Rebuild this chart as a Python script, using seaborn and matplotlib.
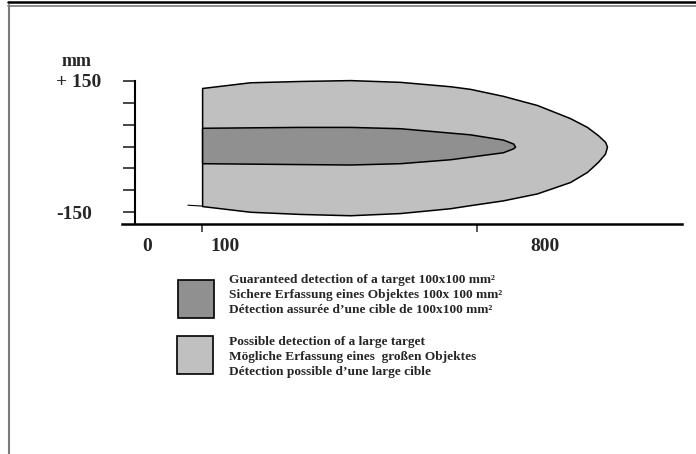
import seaborn as sns
import matplotlib.pyplot as plt
from matplotlib.lines import Line2D
from matplotlib.patches import Rectangle

# detection field outlines (x = distance in mm, y = lateral offset in mm)
outer_x = [100, 222, 349, 477, 604, 731, 782, 866, 953, 1037, 1080, 1108, 1126, 1131]
outer_top = [134, 147, 150, 152, 148, 138, 132, 116, 95, 65, 45, 26, 11, 0]
outer_bot = [-136, -149, -154, -157, -152, -141, -134, -123, -107, -81, -58, -35, -16, 0]

inner_x = [100, 222, 349, 477, 604, 731, 782, 866, 892, 897]
inner_top = [43, 44, 45, 45, 42, 32, 28, 16, 7, 0]
inner_bot = [-38, -39, -40, -41, -38, -29, -23, -13, -4, 0]

# little lead-in on the lower edge
tail_x = [64, 100]
tail_y = [-134, -136]

y_ticks = [-150, -100, -50, 0, 50, 100, 150]
y_ticklabels = ['-150', '', '', '', '', '', '+ 150']
x_ticks = [100, 800]
x_labels = ['0', '100', '800']

legend_labels = [
    "Guaranteed detection of a target 100x100 mm\u00b2\n"
    "Sichere Erfassung eines Objektes 100x 100 mm\u00b2\n"
    "D\u00e9tection assur\u00e9e d\u2019une cible de 100x100 mm\u00b2",
    "Possible detection of a large target\n"
    "M\u00f6gliche Erfassung eines  gro\u00dfen Objektes\n"
    "D\u00e9tection possible d\u2019une large cible",
]

inner_color = '#909090'
outer_color = '#c0c0c0'

sns.set_theme(style='white')
plt.rcParams['font.family'] = ['Liberation Serif', 'DejaVu Serif']
plt.rcParams['font.weight'] = 'bold'

fig = plt.figure(figsize=(6.96, 4.54), dpi=100)
ax = fig.add_axes([122 / 696, (454 - 224) / 454, 560 / 696, (224 - 76.6) / 454])

ax.fill_between(outer_x, outer_top, outer_bot, facecolor=outer_color,
                edgecolor='black', linewidth=1.1, clip_on=False)
ax.fill_between(inner_x, inner_top, inner_bot, facecolor=inner_color,
                edgecolor='black', linewidth=1.1, clip_on=False)
sns.lineplot(x=tail_x, y=tail_y, color='black', linewidth=0.8, ax=ax)

ax.set_xlim(-104, 1322)
ax.set_ylim(-177, 160)

sns.despine(ax=ax)
ax.spines['left'].set_position(('data', -70))
ax.spines['left'].set_bounds(-177, 150)
ax.spines['left'].set_linewidth(1.5)
ax.spines['bottom'].set_linewidth(1.8)
ax.spines['left'].set_color('black')
ax.spines['bottom'].set_color('black')

ax.set_yticks(y_ticks)
ax.set_yticklabels(y_ticklabels, fontsize=14, fontweight='bold', ha='left')
ax.tick_params(axis='y', direction='out', length=9, width=1.2, pad=48, left=True)
ax.set_xticks(x_ticks)
ax.set_xticklabels([])
ax.tick_params(axis='x', direction='out', length=6, width=1.1, bottom=True)

# axis numbers sit beside the ticks in the drawing
for lbl, xpos in zip(x_labels, [-40, 158, 973]):
    ax.text(xpos, -0.15, lbl, transform=ax.get_xaxis_transform(),
            ha='center', va='center', fontsize=14, fontweight='bold')
fig.text(77 / 696, 1 - 61 / 454, 'mm', ha='center', va='center',
         fontsize=13, fontweight='bold')

# key: swatch + three-language caption (pixel positions from the drawing)
W, H = 696, 454
key_rows = [(178, 280, 295, inner_color), (177, 336, 357, outer_color)]
for (bx, by, ty, col), label in zip(key_rows, legend_labels):
    fig.add_artist(Rectangle((bx / W, 1 - (by + 38) / H), 36 / W, 38 / H,
                             facecolor=col, edgecolor='black', linewidth=1.2,
                             transform=fig.transFigure))
    fig.text(229 / W, 1 - ty / H, label, ha='left', va='center',
             fontsize=9.6, fontweight='bold', linespacing=1.3)

# page frame
fig.add_artist(Line2D([8 / 696, 1], [1 - 1.5 / 454] * 2, color='black', linewidth=1.8))
fig.add_artist(Line2D([8 / 696, 1], [1 - 5.5 / 454] * 2, color='#7a7a7a', linewidth=1.2))
fig.add_artist(Line2D([8.5 / 696] * 2, [0, 1 - 5 / 454], color='#7a7a7a', linewidth=1.5))

fig.savefig('out.png', dpi=100)
